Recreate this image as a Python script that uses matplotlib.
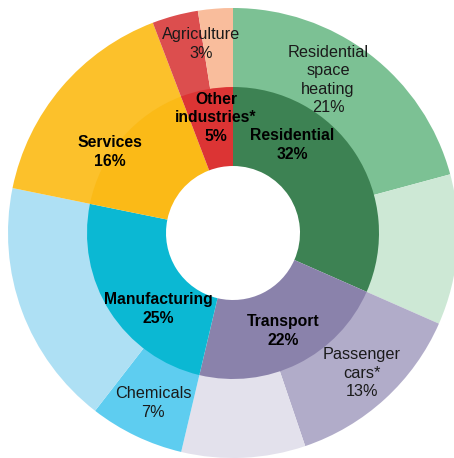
import matplotlib
matplotlib.use("Agg")
import matplotlib.pyplot as plt

plt.rcParams['font.family'] = ['Liberation Sans', 'DejaVu Sans']

# Inner ring (sectors)
inner_labels = ["Residential\n32%", "Transport\n22%", "Manufacturing\n25%", "Services\n16%", "Other\nindustries*\n5%"]
inner_values = [31.6, 22.1, 24.5, 16.0, 5.8]
inner_colors = ["#3d8253", "#8a82ab", "#0bb8d3", "#fbba17", "#dc3434"]

# Outer ring (sub-sectors)
outer_labels = ["Residential\nspace\nheating\n21%", "", "Passenger\ncars*\n13%", "", "Chemicals\n7%", "", "", "", "Agriculture\n3%"]
outer_values = [20.8, 10.8, 13.2, 8.9, 6.8, 17.7, 16.0, 3.3, 2.5]
outer_colors = ["#7cc194", "#cde8d5", "#b1acc9", "#e3e1ec", "#5ecdf0", "#aee0f4", "#fcc12b", "#dc4e4e", "#f9bd9c"]

W, H = 454, 458
fig = plt.figure(figsize=(W / 100, H / 100), dpi=100)
ax = fig.add_axes([0, 0, 1, 1])
cx, cy = 233, H - 233
R_out, R_mid, R_in = 225, 146, 67

ax.pie(outer_values, colors=outer_colors, radius=R_out, center=(cx, cy),
       startangle=90, counterclock=False,
       wedgeprops=dict(width=R_out - R_mid + 1, linewidth=0))
ax.pie(inner_values, colors=inner_colors, radius=R_mid, center=(cx, cy),
       startangle=90, counterclock=False,
       wedgeprops=dict(width=R_mid - R_in, linewidth=0))

ax.set_xlim(0, W)
ax.set_ylim(0, H)
ax.set_aspect('equal')
ax.axis('off')

# label positions (image pixels, from top-left)
inner_pos = [(292, 145), (283, 331), (158, 309), (110, 152), (216, 118)]
outer_pos = [(328, 80), None, (362, 373), None, (153, 403), None, None, None, (201, 44)]

for lab, p in zip(inner_labels, inner_pos):
    ax.text(p[0], H - p[1], lab, ha='center', va='center', fontsize=11.3,
            fontweight='bold', color='black', linespacing=1.3)
for lab, p in zip(outer_labels, outer_pos):
    if p is None or not lab:
        continue
    ax.text(p[0], H - p[1], lab, ha='center', va='center', fontsize=11.7,
            color='#1a1a1a', linespacing=1.3)

fig.savefig("out.png", dpi=100)
